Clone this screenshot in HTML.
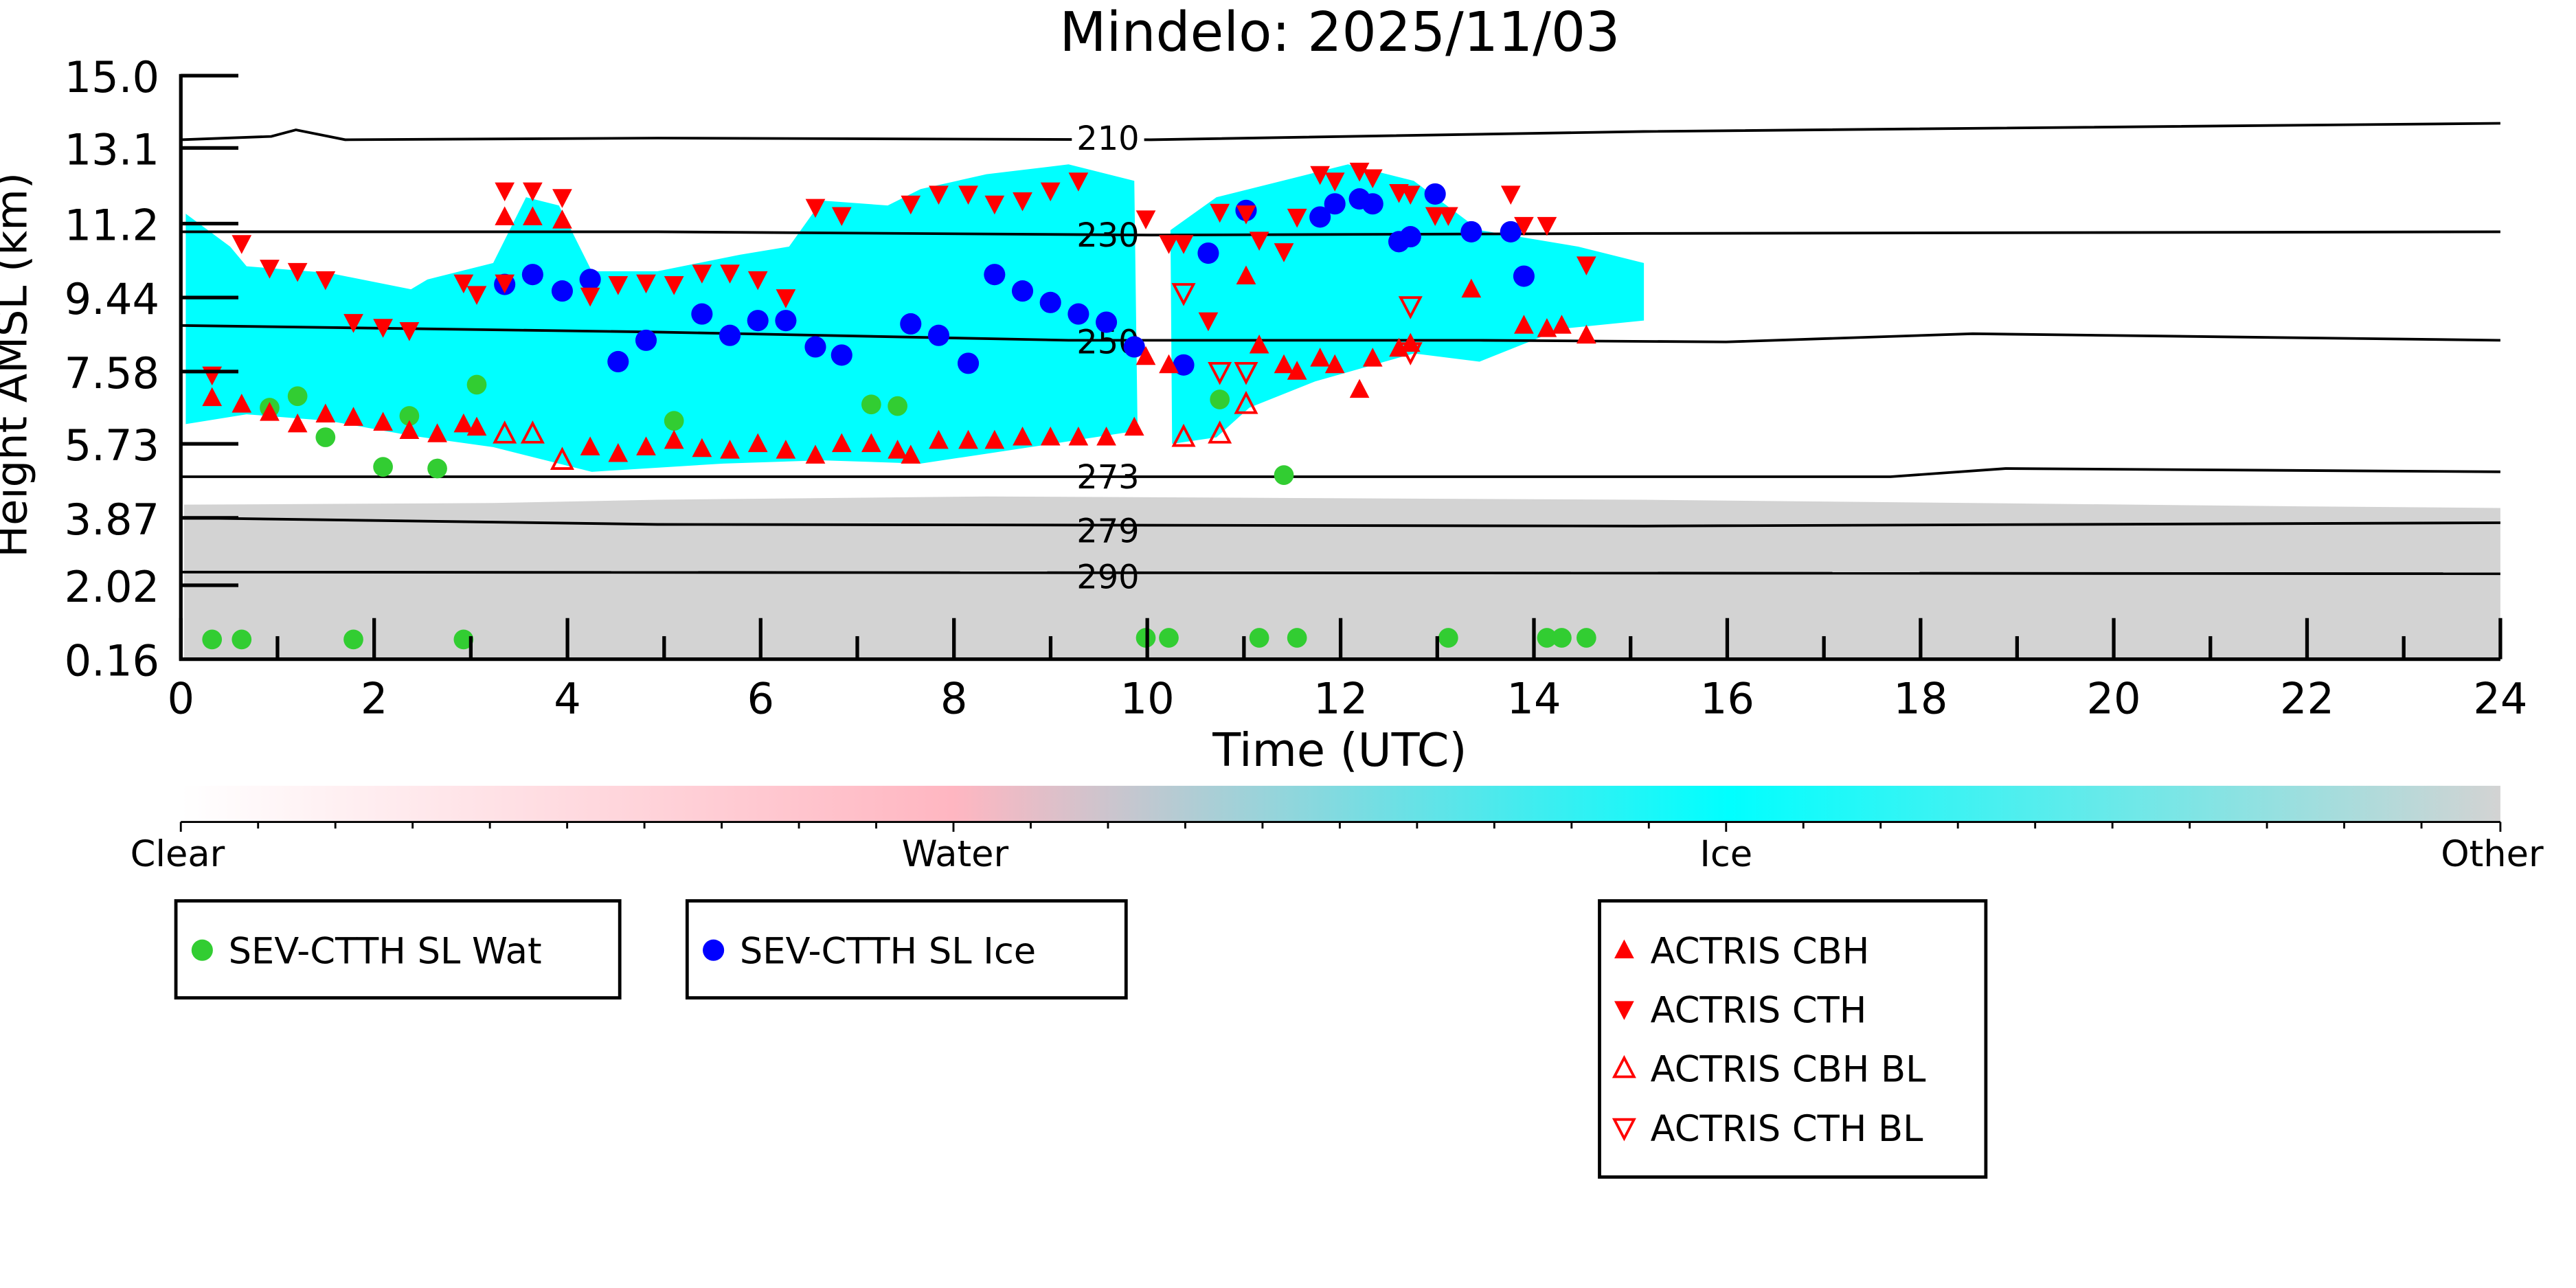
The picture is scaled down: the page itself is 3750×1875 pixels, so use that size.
<!DOCTYPE html>
<html><head><meta charset="utf-8"><style>html,body{margin:0;padding:0;background:#fff}svg{display:block}</style></head><body>
<svg width="3750" height="1875" viewBox="0 0 1567 783.5" xmlns="http://www.w3.org/2000/svg" font-family="'DejaVu Sans','Liberation Sans',sans-serif">
<defs>
<linearGradient id="cb" x1="0" x2="1" y1="0" y2="0">
<stop offset="0" stop-color="#ffffff"/><stop offset="0.333" stop-color="#ffb6c1"/><stop offset="0.667" stop-color="#00ffff"/><stop offset="1" stop-color="#d3d3d3"/>
</linearGradient>
<path id="up" d="M0,-6.5 L6,5 L-6,5 Z"/>
<path id="dn" d="M0,6.5 L6,-5 L-6,-5 Z"/>
</defs>
<text x="815" y="31" font-size="33" text-anchor="middle">Mindelo: 2025/11/03</text>
<polygon fill="#d3d3d3" points="112,307 300,306 400,304 600,302 800,303 1000,304 1200,306 1400,308 1521,309 1521,401 112,401"/>
<polygon fill="#00ffff" points="113,130 140,150 150,162 200,166 250,176 260,170 300,160 320,120 340,125 360,165 400,165 450,155 480,150 500,122 540,125 560,115 600,106 650,100 690,110 692,262 640,270 560,282 500,280 440,282 360,287 300,272 250,265 200,256 150,252 113,258"/>
<polygon fill="#00ffff" points="712,140 740,120 780,110 820,100 860,110 900,140 960,150 1000,160 1000,195 950,200 900,220 860,215 800,232 760,248 740,266 713,270"/>
<g fill="none" stroke="#000" stroke-width="1.6">
<path d="M110,85 L165,83 L180,79 L210,85 L400,84 L700,85 L1000,80 L1521,75"/>
<path d="M110,141 L400,141 L700,143 L1000,142 L1521,141"/>
<path d="M110,198 L400,202 L650,207 L900,207 L1050,208 L1200,203 L1521,207"/>
<path d="M110,290 L1150,290 L1220,285 L1521,287"/>
<path d="M110,315 L400,319 L1000,320 L1521,318"/>
<path d="M110,348 L1521,349"/>
</g>
<g font-size="20" text-anchor="middle">
<rect x="652" y="74" width="44" height="20" fill="#fff"/><text x="674" y="91">210</text>
<text x="674" y="150">230</text>
<text x="674" y="215">250</text>
<text x="674" y="297">273</text>
<text x="674" y="330">279</text>
<text x="674" y="358">290</text>
</g>
<g fill="#32cd32">
<circle cx="164" cy="248" r="6"/><circle cx="181" cy="241" r="6"/><circle cx="198" cy="266" r="6"/><circle cx="233" cy="284" r="6"/><circle cx="249" cy="253" r="6"/><circle cx="266" cy="285" r="6"/><circle cx="290" cy="234" r="6"/><circle cx="410" cy="256" r="6"/><circle cx="530" cy="246" r="6"/><circle cx="546" cy="247" r="6"/><circle cx="742" cy="243" r="6"/><circle cx="781" cy="289" r="6"/>
<circle cx="129" cy="389" r="6"/><circle cx="147" cy="389" r="6"/><circle cx="215" cy="389" r="6"/><circle cx="282" cy="389" r="6"/><circle cx="697" cy="388" r="6"/><circle cx="711" cy="388" r="6"/><circle cx="766" cy="388" r="6"/><circle cx="789" cy="388" r="6"/><circle cx="881" cy="388" r="6"/><circle cx="941" cy="388" r="6"/><circle cx="950" cy="388" r="6"/><circle cx="965" cy="388" r="6"/>
</g>
<g fill="#0000ff">
<circle cx="307" cy="173" r="6.5"/><circle cx="324" cy="167" r="6.5"/><circle cx="342" cy="177" r="6.5"/><circle cx="359" cy="170" r="6.5"/><circle cx="376" cy="220" r="6.5"/><circle cx="393" cy="207" r="6.5"/><circle cx="427" cy="191" r="6.5"/><circle cx="444" cy="204" r="6.5"/><circle cx="461" cy="195" r="6.5"/><circle cx="478" cy="195" r="6.5"/><circle cx="496" cy="211" r="6.5"/><circle cx="512" cy="216" r="6.5"/><circle cx="554" cy="197" r="6.5"/><circle cx="571" cy="204" r="6.5"/><circle cx="589" cy="221" r="6.5"/><circle cx="605" cy="167" r="6.5"/><circle cx="622" cy="177" r="6.5"/><circle cx="639" cy="184" r="6.5"/><circle cx="656" cy="191" r="6.5"/><circle cx="673" cy="196" r="6.5"/><circle cx="690" cy="211" r="6.5"/><circle cx="720" cy="222" r="6.5"/><circle cx="735" cy="154" r="6.5"/><circle cx="758" cy="128" r="6.5"/><circle cx="803" cy="132" r="6.5"/><circle cx="812" cy="124" r="6.5"/><circle cx="827" cy="121" r="6.5"/><circle cx="835" cy="124" r="6.5"/><circle cx="851" cy="147" r="6.5"/><circle cx="858" cy="144" r="6.5"/><circle cx="873" cy="118" r="6.5"/><circle cx="895" cy="141" r="6.5"/><circle cx="919" cy="141" r="6.5"/><circle cx="927" cy="168" r="6.5"/>
</g>
<g fill="#ff0000">
<use href="#up" x="129" y="242"/><use href="#up" x="147" y="246"/><use href="#up" x="164" y="251"/><use href="#up" x="181" y="258"/><use href="#up" x="198" y="252"/><use href="#up" x="215" y="254"/><use href="#up" x="233" y="257"/><use href="#up" x="249" y="262"/><use href="#up" x="266" y="264"/><use href="#up" x="282" y="258"/><use href="#up" x="290" y="260"/><use href="#up" x="359" y="272"/><use href="#up" x="376" y="276"/><use href="#up" x="393" y="272"/><use href="#up" x="410" y="268"/><use href="#up" x="427" y="273"/><use href="#up" x="444" y="274"/><use href="#up" x="461" y="270"/><use href="#up" x="478" y="274"/><use href="#up" x="496" y="277"/><use href="#up" x="512" y="270"/><use href="#up" x="530" y="270"/><use href="#up" x="546" y="274"/><use href="#up" x="554" y="277"/><use href="#up" x="571" y="268"/><use href="#up" x="589" y="268"/><use href="#up" x="605" y="268"/><use href="#up" x="622" y="266"/><use href="#up" x="639" y="266"/><use href="#up" x="656" y="266"/><use href="#up" x="673" y="266"/><use href="#up" x="690" y="260"/><use href="#up" x="697" y="217"/><use href="#up" x="711" y="222"/><use href="#up" x="758" y="168"/><use href="#up" x="766" y="210"/><use href="#up" x="781" y="222"/><use href="#up" x="789" y="226"/><use href="#up" x="803" y="218"/><use href="#up" x="812" y="222"/><use href="#up" x="827" y="237"/><use href="#up" x="835" y="218"/><use href="#up" x="851" y="212"/><use href="#up" x="858" y="209"/><use href="#up" x="895" y="176"/><use href="#up" x="927" y="198"/><use href="#up" x="941" y="200"/><use href="#up" x="950" y="198"/><use href="#up" x="965" y="204"/><use href="#up" x="307" y="132"/><use href="#up" x="324" y="132"/><use href="#up" x="342" y="134"/>
<use href="#dn" x="129" y="228"/><use href="#dn" x="147" y="148"/><use href="#dn" x="164" y="163"/><use href="#dn" x="181" y="165"/><use href="#dn" x="198" y="170"/><use href="#dn" x="215" y="196"/><use href="#dn" x="233" y="199"/><use href="#dn" x="249" y="201"/><use href="#dn" x="282" y="172"/><use href="#dn" x="290" y="179"/><use href="#dn" x="307" y="172"/><use href="#dn" x="307" y="116"/><use href="#dn" x="324" y="116"/><use href="#dn" x="342" y="120"/><use href="#dn" x="359" y="180"/><use href="#dn" x="376" y="173"/><use href="#dn" x="393" y="172"/><use href="#dn" x="410" y="173"/><use href="#dn" x="427" y="166"/><use href="#dn" x="444" y="166"/><use href="#dn" x="461" y="170"/><use href="#dn" x="478" y="181"/><use href="#dn" x="496" y="126"/><use href="#dn" x="512" y="131"/><use href="#dn" x="554" y="124"/><use href="#dn" x="571" y="118"/><use href="#dn" x="589" y="118"/><use href="#dn" x="605" y="124"/><use href="#dn" x="622" y="122"/><use href="#dn" x="639" y="116"/><use href="#dn" x="656" y="110"/><use href="#dn" x="697" y="133"/><use href="#dn" x="711" y="148"/><use href="#dn" x="720" y="148"/><use href="#dn" x="735" y="195"/><use href="#dn" x="742" y="129"/><use href="#dn" x="758" y="130"/><use href="#dn" x="766" y="146"/><use href="#dn" x="781" y="153"/><use href="#dn" x="789" y="132"/><use href="#dn" x="803" y="106"/><use href="#dn" x="812" y="110"/><use href="#dn" x="827" y="104"/><use href="#dn" x="835" y="108"/><use href="#dn" x="851" y="117"/><use href="#dn" x="858" y="118"/><use href="#dn" x="873" y="131"/><use href="#dn" x="881" y="131"/><use href="#dn" x="919" y="118"/><use href="#dn" x="927" y="137"/><use href="#dn" x="941" y="137"/><use href="#dn" x="965" y="161"/>
</g>
<g fill="none" stroke="#ff0000" stroke-width="1.6">
<use href="#up" x="307" y="264"/><use href="#up" x="324" y="264"/><use href="#up" x="342" y="280"/><use href="#up" x="720" y="266"/><use href="#up" x="742" y="264"/><use href="#up" x="758" y="246"/>
<use href="#dn" x="720" y="178"/><use href="#dn" x="742" y="226"/><use href="#dn" x="758" y="226"/><use href="#dn" x="858" y="186"/><use href="#dn" x="858" y="214"/>
</g>
<g stroke="#000" stroke-width="2.2">
<line x1="110" y1="45" x2="110" y2="402"/>
<line x1="109" y1="401" x2="1521" y2="401"/>
<path d="M110,46h35M110,90h35M110,136h35M110,181h35M110,226h35M110,270h35M110,315h35M110,356h35"/>
<path d="M110,401v-25M227.6,401v-25M345.2,401v-25M462.7,401v-25M580.3,401v-25M697.9,401v-25M815.5,401v-25M933.1,401v-25M1050.7,401v-25M1168.3,401v-25M1285.8,401v-25M1403.4,401v-25M1521,401v-25"/>
<path d="M168.8,401v-14M286.4,401v-14M404,401v-14M521.5,401v-14M639.1,401v-14M756.7,401v-14M874.3,401v-14M991.9,401v-14M1109.5,401v-14M1227,401v-14M1344.6,401v-14M1462.2,401v-14"/>
</g>
<g font-size="26" text-anchor="end">
<text x="97" y="56">15.0</text><text x="97" y="100">13.1</text><text x="97" y="146">11.2</text><text x="97" y="191">9.44</text><text x="97" y="236">7.58</text><text x="97" y="280">5.73</text><text x="97" y="325">3.87</text><text x="97" y="366">2.02</text><text x="97" y="411">0.16</text>
</g>
<g font-size="26" text-anchor="middle">
<text x="110" y="434">0</text><text x="227.6" y="434">2</text><text x="345.2" y="434">4</text><text x="462.7" y="434">6</text><text x="580.3" y="434">8</text><text x="697.9" y="434">10</text><text x="815.5" y="434">12</text><text x="933.1" y="434">14</text><text x="1050.7" y="434">16</text><text x="1168.3" y="434">18</text><text x="1285.8" y="434">20</text><text x="1403.4" y="434">22</text><text x="1521" y="434">24</text>
</g>
<text x="815" y="466" font-size="28" text-anchor="middle">Time (UTC)</text>
<text transform="translate(16,222) rotate(-90)" font-size="26" text-anchor="middle">Height AMSL (km)</text>
<rect x="110" y="478" width="1411" height="22" fill="url(#cb)"/>
<g stroke="#000" stroke-width="1.2">
<line x1="110" y1="500" x2="1521" y2="500"/>
<path d="M110,500v6M580,500v6M1050,500v6M1521,500v6"/>
<path d="M157,500v4M204,500v4M251,500v4M298,500v4M345,500v4M392,500v4M439,500v4M486,500v4M533,500v4M627,500v4M674,500v4M721,500v4M768,500v4M815,500v4M862,500v4M909,500v4M956,500v4M1003,500v4M1097,500v4M1144,500v4M1191,500v4M1238,500v4M1285,500v4M1332,500v4M1379,500v4M1426,500v4M1473,500v4"/>
</g>
<g font-size="22" text-anchor="middle">
<text x="108" y="527">Clear</text><text x="581" y="527">Water</text><text x="1050" y="527">Ice</text><text x="1516" y="527">Other</text>
</g>
<g fill="#fff" stroke="#000" stroke-width="2">
<rect x="107" y="548" width="270" height="59"/>
<rect x="418" y="548" width="267" height="59"/>
<rect x="973" y="548" width="235" height="168"/>
</g>
<g font-size="22">
<circle cx="123" cy="578" r="6.5" fill="#32cd32"/><text x="139" y="586">SEV-CTTH SL Wat</text>
<circle cx="434" cy="578" r="6.5" fill="#0000ff"/><text x="450" y="586">SEV-CTTH SL Ice</text>
<use href="#up" x="988" y="578" fill="#ff0000"/><text x="1004" y="586">ACTRIS CBH</text>
<use href="#dn" x="988" y="614" fill="#ff0000"/><text x="1004" y="622">ACTRIS CTH</text>
<use href="#up" x="988" y="650" fill="none" stroke="#ff0000" stroke-width="1.6"/><text x="1004" y="658">ACTRIS CBH BL</text>
<use href="#dn" x="988" y="686" fill="none" stroke="#ff0000" stroke-width="1.6"/><text x="1004" y="694">ACTRIS CTH BL</text>
</g>
</svg>
</body></html>
